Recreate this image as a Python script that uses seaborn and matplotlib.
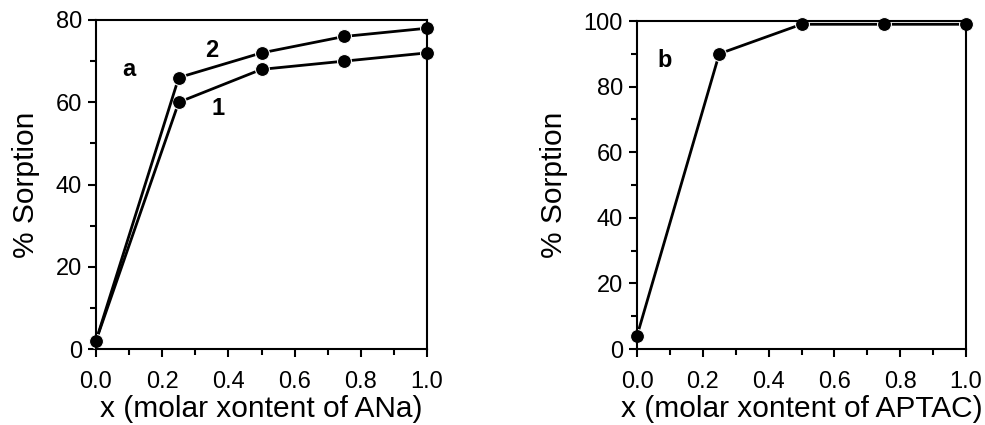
import matplotlib
matplotlib.use("Agg")
import matplotlib.pyplot as plt
import seaborn as sns
import pandas as pd
from matplotlib.ticker import MultipleLocator

# data
x = [0.0, 0.25, 0.5, 0.75, 1.0]
ana_1 = [2, 60, 68, 70, 72]
ana_2 = [2, 66, 72, 76, 78]
aptac = [4, 90, 99, 99, 99]

sns.set_style("ticks")
plt.rcParams['font.family'] = ['Liberation Sans', 'DejaVu Sans']
plt.rcParams['text.color'] = 'black'
plt.rcParams['axes.labelcolor'] = 'black'

df_a = pd.DataFrame({"x": x * 2, "y": ana_1 + ana_2,
                     "curve": ["1"] * len(x) + ["2"] * len(x)})
df_b = pd.DataFrame({"x": x, "y": aptac})

fig = plt.figure(figsize=(9.85, 4.25), dpi=100)
ax1 = fig.add_axes([96 / 985, 76 / 425, 331 / 985, 329 / 425])
ax2 = fig.add_axes([637 / 985, 76 / 425, 329 / 985, 328 / 425])

sns.lineplot(data=df_a, x="x", y="y", units="curve", estimator=None,
             color="black", lw=2, marker="o", markersize=10, ax=ax1)
sns.lineplot(data=df_b, x="x", y="y", color="black", lw=2,
             marker="o", markersize=10, ax=ax2)

for ax, ytop, ystep, xlab in [(ax1, 80, 20, "x (molar xontent of ANa)"),
                              (ax2, 100, 20, "x (molar xontent of APTAC)")]:
    ax.set_xlim(0, 1.0)
    ax.set_ylim(0, ytop)
    ax.xaxis.set_major_locator(MultipleLocator(0.2))
    ax.xaxis.set_minor_locator(MultipleLocator(0.1))
    ax.yaxis.set_major_locator(MultipleLocator(ystep))
    ax.yaxis.set_minor_locator(MultipleLocator(ystep / 2))
    ax.tick_params(which="major", direction="out", length=6, width=1.5,
                   labelsize=17, colors="black", pad=4)
    ax.tick_params(axis="x", which="major", pad=10)
    ax.tick_params(which="minor", direction="out", length=4, width=1.5,
                   colors="black")
    for s in ax.spines.values():
        s.set_linewidth(1.5)
        s.set_color("black")
    ax.set_xlabel(xlab, fontsize=21.5, labelpad=1)
    ax.set_ylabel("% Sorption", fontsize=21.5, labelpad=11)
    for line in ax.lines:
        line.set_clip_on(False)

ax1.text(0.1, 68, "a", fontsize=17, fontweight="bold", ha="center", va="center")
ax1.text(0.35, 72.5, "2", fontsize=17, fontweight="bold", ha="center", va="center")
ax1.text(0.37, 58.5, "1", fontsize=17, fontweight="bold", ha="center", va="center")
ax2.text(0.085, 88, "b", fontsize=17, fontweight="bold", ha="center", va="center")

fig.savefig("out.png", dpi=100)
